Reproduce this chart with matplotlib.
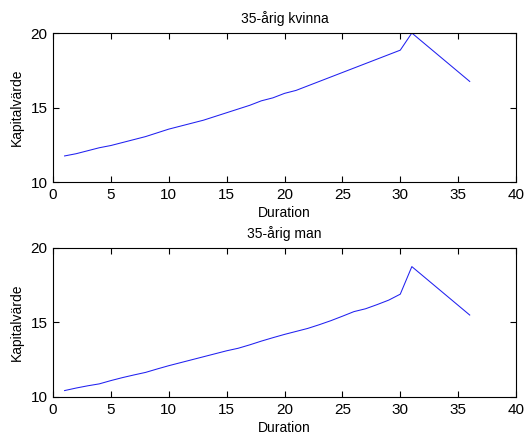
import matplotlib
matplotlib.use("Agg")
import matplotlib.pyplot as plt
from matplotlib import font_manager

years = list(range(1, 37))
kvinna = [11.75, 11.9, 12.1, 12.3, 12.45, 12.65, 12.85, 13.05, 13.3, 13.55,
          13.75, 13.95, 14.15, 14.4, 14.65, 14.9, 15.15, 15.45, 15.65, 15.95,
          16.15, 16.45, 16.75, 17.05, 17.35, 17.65, 17.95, 18.25, 18.55, 18.85,
          20.0, 19.35, 18.7, 18.05, 17.4, 16.75]
man = [10.43, 10.6, 10.75, 10.88, 11.1, 11.3, 11.48, 11.65, 11.88, 12.1,
       12.3, 12.5, 12.7, 12.9, 13.1, 13.27, 13.5, 13.75, 13.98, 14.2,
       14.4, 14.6, 14.85, 15.12, 15.42, 15.73, 15.92, 16.2, 16.5, 16.9,
       18.75, 18.1, 17.45, 16.8, 16.15, 15.5]
titles = ["35-årig kvinna", "35-årig man"]
xticks = [0, 5, 10, 15, 20, 25, 30, 35, 40]
yticks = [10, 15, 20]

names = {f.name for f in font_manager.fontManager.ttflist}
fam = ['Liberation Sans Narrow'] if 'Liberation Sans Narrow' in names else []
plt.rcParams['font.family'] = fam + ['Liberation Sans', 'DejaVu Sans']
fig = plt.figure(figsize=(5.31, 4.34), dpi=100)
fig.patch.set_facecolor('white')

positions = [[0.0998, 0.5806, 0.872, 0.3433], [0.0998, 0.0853, 0.872, 0.3433]]
for pos, data, title in zip(positions, [kvinna, man], titles):
    ax = fig.add_axes(pos)
    ax.plot(years, data, color='#2020f0', linewidth=0.75)
    ax.set_xlim(0, 40)
    ax.set_ylim(10, 20)
    ax.set_xticks(xticks)
    ax.set_yticks(yticks)
    ax.tick_params(direction='in', length=4, width=0.8, top=True, right=True,
                   labelsize=11, pad=4)
    for s in ax.spines.values():
        s.set_linewidth(0.8)
    ax.set_title(title, fontsize=10, pad=7)
    ax.set_xlabel("Duration", fontsize=10, labelpad=3)
    ax.set_ylabel("Kapitalvärde", fontsize=10, labelpad=5)

fig.savefig("out.png", dpi=100)
